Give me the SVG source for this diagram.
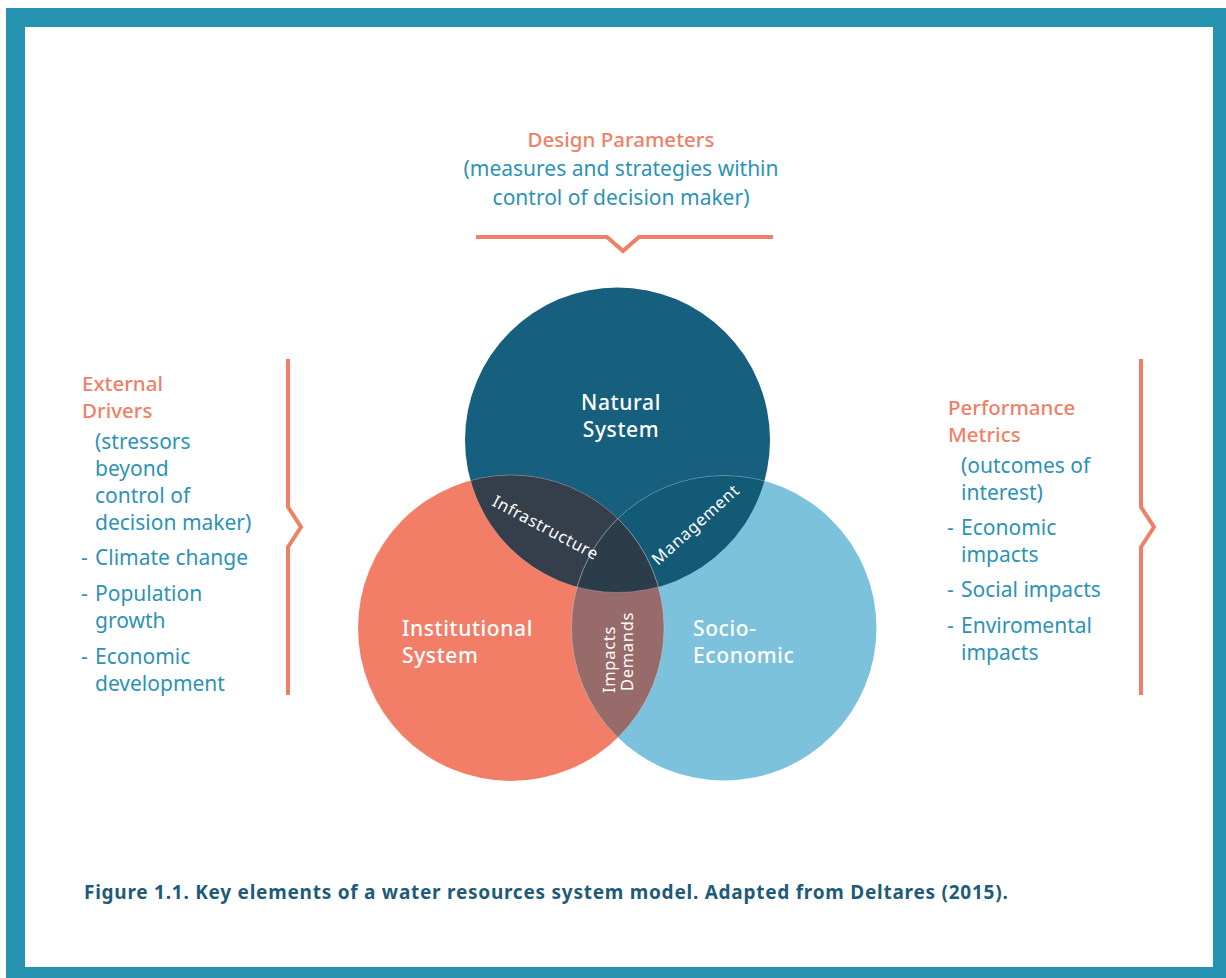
<svg xmlns="http://www.w3.org/2000/svg" width="1226" height="978" viewBox="0 0 1226 978">
  <style>
    .head { font-family: "Noto Sans", "Liberation Sans", sans-serif; font-size: 20.5px; fill: #F07F67; font-weight: 500; }
    .body { font-family: "Noto Sans", "Liberation Sans", sans-serif; font-size: 21px; fill: #2C93B6; }
    .lbl { font-family: "Noto Sans", "Liberation Sans", sans-serif; font-size: 21px; fill: #ffffff; font-weight: 500; letter-spacing: 0.6px; }
    .ovl { font-family: "Noto Sans", "Liberation Sans", sans-serif; font-size: 16.5px; fill: #ffffff; letter-spacing: 0.7px; }
    .cap { font-family: "Noto Sans", "Liberation Sans", sans-serif; font-size: 19px; fill: #1E5B79; font-weight: 700; letter-spacing: 0.75px; }
    .brk { fill: none; stroke: #F07F67; stroke-width: 4; stroke-linejoin: miter; }
    .edge { fill: none; stroke: #ffffff; stroke-opacity: 0.22; stroke-width: 1; }
  </style>
  <defs>
    <clipPath id="cN"><circle cx="617.5" cy="440" r="152.5"/></clipPath>
    <clipPath id="cI"><circle cx="511" cy="628" r="153"/></clipPath>
    <clipPath id="cS"><circle cx="724" cy="628" r="152.5"/></clipPath>
  </defs>

  <g id="frame">
    <rect x="6" y="8" width="1220" height="970" fill="#2592B2"/>
    <rect x="25" y="27" width="1188" height="940" fill="#ffffff"/>
  </g>

  <g id="design-parameters">
    <text class="head" x="621" y="147" text-anchor="middle">Design Parameters</text>
    <text class="body" x="621" y="176" text-anchor="middle">(measures and strategies within</text>
    <text class="body" x="621" y="205" text-anchor="middle">control of decision maker)</text>
  </g>

  <g id="external-drivers">
    <text class="head" x="82" y="391">External</text>
    <text class="head" x="82" y="418">Drivers</text>
    <text class="body" x="95" y="449">(stressors</text>
    <text class="body" x="95" y="476">beyond</text>
    <text class="body" x="95" y="503">control of</text>
    <text class="body" x="95" y="530">decision maker)</text>
    <text class="body" x="81" y="565">-</text>
    <text class="body" x="95" y="565">Climate change</text>
    <text class="body" x="81" y="601">-</text>
    <text class="body" x="95" y="601">Population</text>
    <text class="body" x="95" y="628">growth</text>
    <text class="body" x="81" y="664">-</text>
    <text class="body" x="95" y="664">Economic</text>
    <text class="body" x="95" y="691">development</text>
  </g>

  <g id="performance-metrics">
    <text class="head" x="948" y="415">Performance</text>
    <text class="head" x="948" y="442">Metrics</text>
    <text class="body" x="961" y="473">(outcomes of</text>
    <text class="body" x="961" y="500">interest)</text>
    <text class="body" x="947" y="535">-</text>
    <text class="body" x="961" y="535">Economic</text>
    <text class="body" x="961" y="562">impacts</text>
    <text class="body" x="947" y="597">-</text>
    <text class="body" x="961" y="597">Social impacts</text>
    <text class="body" x="947" y="633">-</text>
    <text class="body" x="961" y="633">Enviromental</text>
    <text class="body" x="961" y="660">impacts</text>
  </g>

  <g id="connectors">
    <path class="brk" d="M476 237 H607 L623 251 L639 237 H773"/>
    <path class="brk" d="M288 359 V507 L301 527 L288 547 V695"/>
    <path class="brk" d="M1141 359 V507 L1154 527 L1141 547 V695"/>
  </g>

  <g id="natural-system">
    <circle cx="617.5" cy="440" r="152.5" fill="#175F7E"/>
  </g>
  <g id="institutional-system">
    <circle cx="511" cy="628" r="153" fill="#F27E68"/>
  </g>
  <g id="socio-economic">
    <circle cx="724" cy="628" r="152.5" fill="#7CC2DC"/>
  </g>

  <g id="overlap-infrastructure">
    <circle cx="617.5" cy="440" r="152.5" fill="#353F4C" clip-path="url(#cI)"/>
  </g>
  <g id="overlap-management">
    <circle cx="617.5" cy="440" r="152.5" fill="#135A77" clip-path="url(#cS)"/>
  </g>
  <g id="overlap-impacts-demands">
    <circle cx="511" cy="628" r="153" fill="#976B69" clip-path="url(#cS)"/>
  </g>
  <g id="overlap-center">
    <g clip-path="url(#cI)">
      <circle cx="617.5" cy="440" r="152.5" fill="#2B3C4A" clip-path="url(#cS)"/>
    </g>
  </g>

  <g id="edges">
    <circle class="edge" cx="511" cy="628" r="153" clip-path="url(#cN)"/>
    <circle class="edge" cx="724" cy="628" r="152.5" clip-path="url(#cN)"/>
    <circle class="edge" cx="617.5" cy="440" r="152.5" clip-path="url(#cI)"/>
    <circle class="edge" cx="724" cy="628" r="152.5" clip-path="url(#cI)"/>
    <circle class="edge" cx="511" cy="628" r="153" clip-path="url(#cS)"/>
  </g>

  <g id="labels">
    <text class="lbl" x="621" y="410" text-anchor="middle">Natural</text>
    <text class="lbl" x="621" y="437" text-anchor="middle">System</text>
    <text class="lbl" x="402" y="636">Institutional</text>
    <text class="lbl" x="402" y="663">System</text>
    <text class="lbl" x="693" y="636">Socio-</text>
    <text class="lbl" x="693" y="663">Economic</text>
    <text class="ovl" transform="translate(546,527) rotate(28)" text-anchor="middle" dominant-baseline="central">Infrastructure</text>
    <text class="ovl" transform="translate(695,524) rotate(-42)" text-anchor="middle" dominant-baseline="central">Management</text>
    <text class="ovl" transform="translate(615,659.5) rotate(-90)" text-anchor="middle">Impacts</text>
    <text class="ovl" transform="translate(633,651.5) rotate(-90)" text-anchor="middle">Demands</text>
  </g>

  <g id="caption">
    <text class="cap" x="84" y="899">Figure 1.1. Key elements of a water resources system model. Adapted from Deltares (2015).</text>
  </g>
</svg>
